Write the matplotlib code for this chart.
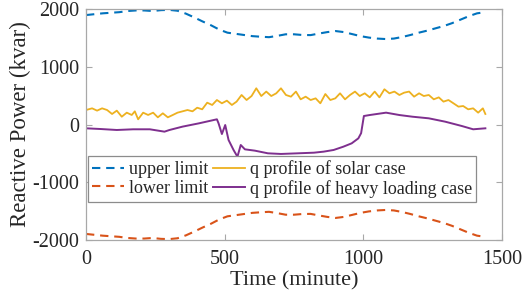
import matplotlib
matplotlib.use("Agg")
import matplotlib.pyplot as plt

# ---- data ----
limit_t = [0, 30, 60, 90, 120, 150, 180, 210, 240, 270, 300, 330, 360, 390, 420,
           450, 480, 510, 540, 570, 600, 630, 660, 690, 720, 750, 780, 810, 840,
           870, 900, 930, 960, 990, 1020, 1050, 1080, 1110, 1140, 1170, 1200,
           1230, 1260, 1290, 1320, 1350, 1380, 1410, 1440]
upper_limit = [1895, 1910, 1925, 1935, 1945, 1965, 1975, 1975, 1965, 1980, 1985,
               1970, 1920, 1855, 1785, 1720, 1645, 1590, 1570, 1550, 1530, 1520,
               1512, 1535, 1562, 1562, 1550, 1548, 1575, 1600, 1618, 1600, 1565,
               1530, 1505, 1488, 1480, 1488, 1515, 1550, 1590, 1625, 1665, 1705,
               1755, 1815, 1875, 1925, 1945]
lower_limit = [-1895, -1910, -1925, -1935, -1945, -1965, -1975, -1975, -1965, -1980,
               -1985, -1970, -1920, -1855, -1785, -1720, -1645, -1590, -1570, -1550,
               -1530, -1520, -1512, -1535, -1562, -1562, -1550, -1548, -1575, -1600,
               -1618, -1600, -1565, -1530, -1505, -1488, -1480, -1488, -1515, -1550,
               -1590, -1625, -1665, -1705, -1755, -1815, -1875, -1925, -1945]

solar_t = [0, 22, 40, 58, 76, 94, 111, 129, 147, 165, 176, 188, 206, 224, 242,
           259, 277, 295, 313, 330, 348, 366, 384, 401, 419, 437, 455, 472, 490,
           508, 526, 543, 561, 579, 597, 614, 632, 650, 668, 686, 703, 721, 739,
           757, 774, 792, 810, 828, 845, 863, 881, 899, 916, 934, 952, 970, 987,
           1005, 1023, 1041, 1058, 1076, 1094, 1112, 1130, 1147, 1165, 1183, 1201,
           1218, 1236, 1254, 1272, 1289, 1307, 1325, 1343, 1360, 1378, 1396, 1414,
           1431, 1440]
solar_q = [251, 280, 240, 280, 251, 182, 240, 135, 205, 165, 228, 90, 205, 165,
           205, 124, 194, 124, 165, 205, 228, 251, 228, 291, 263, 378, 338, 424,
           367, 413, 338, 396, 511, 424, 493, 627, 493, 570, 493, 540, 627, 511,
           482, 570, 436, 482, 424, 453, 367, 528, 424, 453, 540, 436, 511, 570,
           493, 540, 470, 570, 470, 610, 540, 570, 511, 551, 570, 482, 540, 493,
           511, 436, 470, 396, 424, 367, 309, 320, 263, 280, 205, 280, 182]

heavy_t = [0, 52, 111, 170, 230, 283, 301, 348, 407, 472, 478, 490, 502, 514,
           532, 546, 558, 573, 609, 656, 703, 763, 822, 857, 893, 928, 958, 982,
           992, 1002, 1023, 1082, 1130, 1177, 1236, 1295, 1355, 1396, 1440]
heavy_q = [-66, -78, -95, -83, -83, -124, -95, -37, 20, 90, 20, -165, -9, -268,
           -441, -557, -355, -430, -453, -499, -510, -499, -488, -470, -441, -384,
           -326, -240, -150, 147, 164, 205, 164, 135, 107, 49, -26, -83, -66]

legend_labels = ["upper limit", "lower limit", "q profile of solar case",
                 "q profile of heavy loading case"]
x_ticks = [0, 500, 1000, 1500]
y_ticks = [-2000, -1000, 0, 1000, 2000]

# ---- styling ----
plt.rcParams['font.family'] = ['Liberation Serif', 'DejaVu Serif']

fig = plt.figure(figsize=(5.29, 2.97), dpi=100)
ax = fig.add_axes([86 / 529, 57 / 297, 416 / 529, 231 / 297])

c_up, c_low, c_sol, c_hv = '#0072BD', '#D95319', '#EDB120', '#7E2F8E'

l1, = ax.plot(limit_t, upper_limit, color=c_up, lw=1.5, dashes=(4, 2.8))
l2, = ax.plot(limit_t, lower_limit, color=c_low, lw=1.5, dashes=(4, 2.8))
l3, = ax.plot(solar_t, solar_q, color=c_sol, lw=1.3)
l4, = ax.plot(heavy_t, heavy_q, color=c_hv, lw=1.4)

ax.set_xlim(0, 1500)
ax.set_ylim(-2000, 2000)
ax.set_xticks(x_ticks)
ax.set_yticks(y_ticks)
ax.set_xticklabels([str(v) for v in x_ticks])
ax.set_yticklabels([str(v) for v in y_ticks])
ax.tick_params(direction='in', length=4, width=0.8, colors='#a8a8a8',
               labelcolor='#262626', labelsize=14.5, top=True, right=True)
ax.tick_params(axis='x', pad=7)
ax.tick_params(axis='y', pad=5)
for s in ax.spines.values():
    s.set_color('#a8a8a8')
    s.set_linewidth(0.9)

ax.set_xlabel('Time (minute)', fontsize=16, color='#262626', labelpad=2)
ax.set_ylabel('Reactive Power (kvar)', fontsize=16.5, color='#262626', labelpad=1)

leg = ax.legend([l1, l2, l3, l4], legend_labels, ncol=2, loc='upper left',
                bbox_to_anchor=(0.004, 0.362), fontsize=13, frameon=True,
                fancybox=False, edgecolor='#8c8c8c', framealpha=1,
                handlelength=1.8, handletextpad=0.25, columnspacing=0.25,
                labelspacing=0.08, borderpad=0.22, borderaxespad=0)
leg.get_frame().set_linewidth(0.9)
for t in leg.get_texts():
    t.set_color('#262626')

fig.savefig('out.png', dpi=100)
